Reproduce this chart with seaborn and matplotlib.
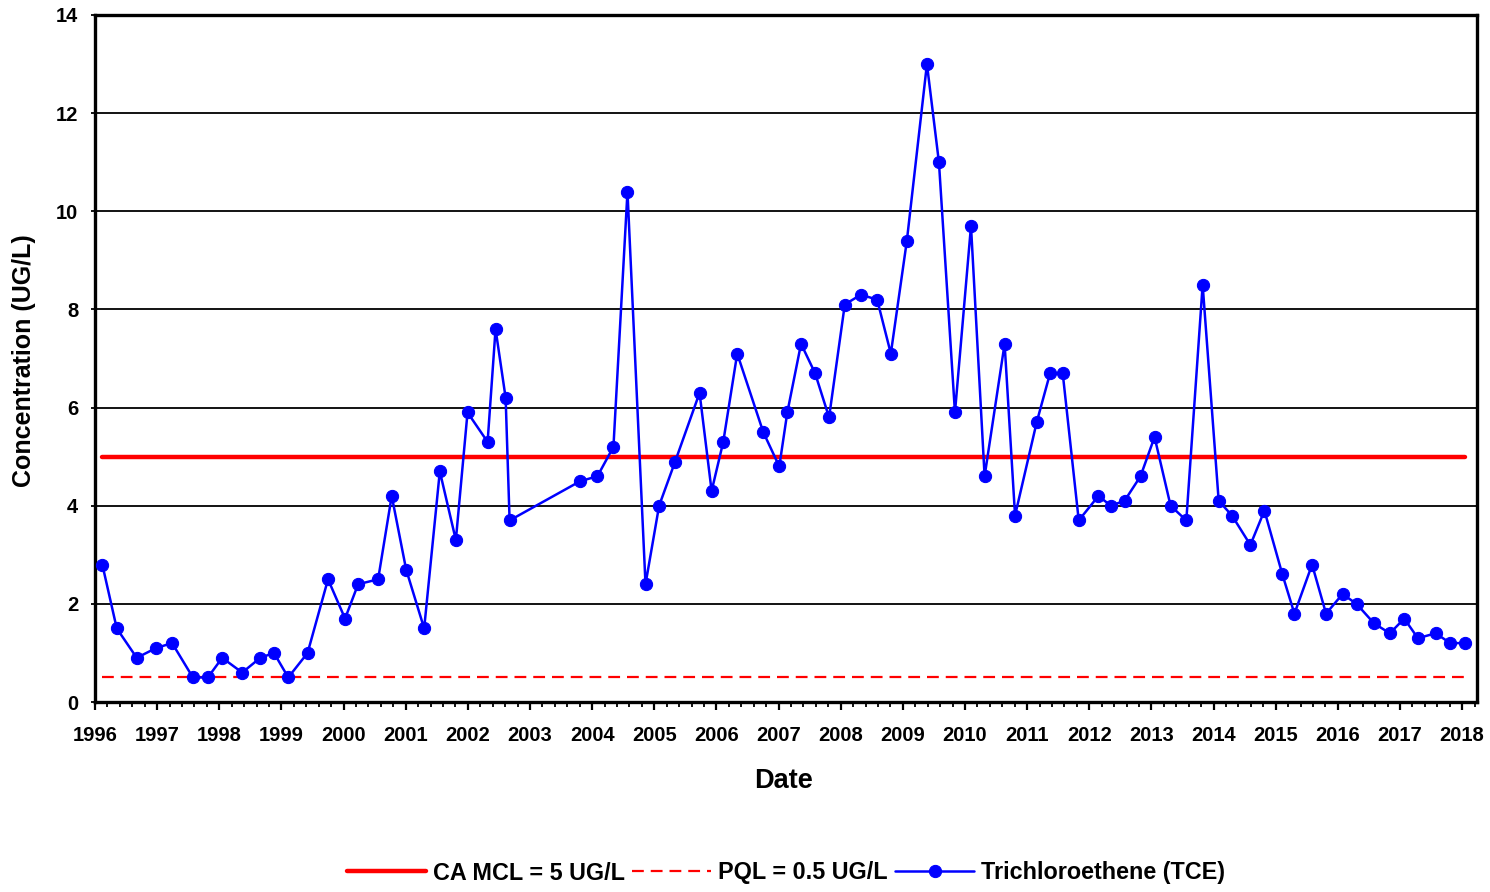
import matplotlib
matplotlib.use("Agg")
import matplotlib.pyplot as plt
from matplotlib.ticker import FixedLocator, MultipleLocator
import seaborn as sns

# Sampling dates (decimal years) and TCE results (ug/L)
sample_year = [
    1996.118, 1996.350, 1996.672, 1996.983, 1997.241, 1997.575, 1997.816, 1998.047,
    1998.369, 1998.659, 1998.880, 1999.110, 1999.421, 1999.750, 2000.024, 2000.234,
    2000.556, 2000.775, 2001.007, 2001.297, 2001.549, 2001.807, 2001.995, 2002.318,
    2002.446, 2002.608, 2002.672, 2003.808, 2004.085, 2004.343, 2004.569, 2004.859,
    2005.078, 2005.336, 2005.729, 2005.923, 2006.110, 2006.335, 2006.754, 2007.012,
    2007.141, 2007.362, 2007.588, 2007.813, 2008.066, 2008.324, 2008.587, 2008.807,
    2009.065, 2009.388, 2009.581, 2009.839, 2010.097, 2010.316, 2010.638, 2010.806,
    2011.154, 2011.370, 2011.573, 2011.831, 2012.148, 2012.347, 2012.568, 2012.825,
    2013.051, 2013.309, 2013.562, 2013.825, 2014.083, 2014.297, 2014.593, 2014.819,
    2015.108, 2015.302, 2015.586, 2015.811, 2016.076, 2016.301, 2016.585, 2016.838,
    2017.069, 2017.289, 2017.574, 2017.810, 2018.040,
]
tce_ugl = [
    2.8, 1.5, 0.9, 1.1, 1.2, 0.5, 0.5, 0.9,
    0.6, 0.9, 1.0, 0.5, 1.0, 2.5, 1.7, 2.4,
    2.5, 4.2, 2.7, 1.5, 4.7, 3.3, 5.9, 5.3,
    7.6, 6.2, 3.7, 4.5, 4.6, 5.2, 10.4, 2.4,
    4.0, 4.9, 6.3, 4.3, 5.3, 7.1, 5.5, 4.8,
    5.9, 7.3, 6.7, 5.8, 8.1, 8.3, 8.2, 7.1,
    9.4, 13.0, 11.0, 5.9, 9.7, 4.6, 7.3, 3.8,
    5.7, 6.7, 6.7, 3.7, 4.2, 4.0, 4.1, 4.6,
    5.4, 4.0, 3.7, 8.5, 4.1, 3.8, 3.2, 3.9,
    2.6, 1.8, 2.8, 1.8, 2.2, 2.0, 1.6, 1.4,
    1.7, 1.3, 1.4, 1.2, 1.2,
]

mcl_level = 5.0
pql_level = 0.5
mcl_label = "CA MCL = 5 UG/L"
pql_label = "PQL = 0.5 UG/L"
tce_label = "Trichloroethene (TCE)"

year_ticks = list(range(1996, 2019))
conc_ticks = [0, 2, 4, 6, 8, 10, 12, 14]

sns.set_style("white")
plt.rcParams["font.family"] = ["Liberation Sans", "DejaVu Sans"]
plt.rcParams["font.weight"] = "bold"
plt.rcParams["lines.scale_dashes"] = False
for key in ("text.color", "axes.labelcolor", "xtick.color", "ytick.color",
            "axes.edgecolor"):
    plt.rcParams[key] = "black"

fig = plt.figure(figsize=(14.9, 8.92), dpi=100)
W, H = 1490, 892
ax = fig.add_axes([95 / W, 1 - 702 / H, (1477 - 95) / W, (702 - 15) / H])

RED = "#ff0000"
BLUE = "#0000ff"

# Regulatory limits spanning the monitoring period
span = [sample_year[0], sample_year[-1]]
sns.lineplot(x=span, y=[mcl_level] * 2, color=RED, linewidth=3.2,
             label=mcl_label, ax=ax, zorder=3)
sns.lineplot(x=span, y=[pql_level] * 2, color=RED, linewidth=1.6,
             label=pql_label, ax=ax, zorder=3)
ax.lines[-1].set_dashes((8.5, 5.0))

# TCE concentration series
sns.lineplot(x=sample_year, y=tce_ugl, color=BLUE, linewidth=1.8,
             marker="o", markersize=8.8, markeredgecolor=BLUE,
             markerfacecolor=BLUE, label=tce_label, ax=ax, zorder=4)

handles, labels = ax.get_legend_handles_labels()
ax.get_legend().remove()

ax.set_xlim(1996, 2018.24)
ax.set_ylim(0, 14)
ax.xaxis.set_major_locator(FixedLocator(year_ticks))
ax.xaxis.set_minor_locator(MultipleLocator(0.2))
ax.set_xticklabels([str(y) for y in year_ticks])
ax.yaxis.set_major_locator(FixedLocator(conc_ticks))
ax.set_yticklabels([str(v) for v in conc_ticks])

ax.yaxis.grid(True, color="black", linewidth=1.3, zorder=1)
ax.xaxis.grid(False)
ax.set_axisbelow(True)

for sp in ax.spines.values():
    sp.set_visible(True)
    sp.set_color("black")
    sp.set_linewidth(2.4)

ax.tick_params(axis="x", which="major", direction="out", length=6, width=1.6,
               color="black", labelcolor="black", pad=11, labelsize=14.5,
               bottom=True)
ax.tick_params(axis="x", which="minor", direction="out", length=3.5, width=1.3,
               color="black", bottom=True)
ax.tick_params(axis="y", which="major", direction="out", length=3, width=1.3,
               color="black", labelcolor="black", pad=9, labelsize=14.5,
               left=True)
for lbl in ax.get_xticklabels() + ax.get_yticklabels():
    lbl.set_fontweight("bold")

ax.set_xlabel("Date", fontsize=19.5, fontweight="bold", color="black")
ax.set_ylabel("Concentration (UG/L)", fontsize=18, fontweight="bold", color="black")
ax.xaxis.set_label_coords((783 - 95) / 1382, (702 - 768) / 687)
ax.yaxis.set_label_coords((36 - 95) / 1382, (702 - 361) / 687)

leg = fig.legend(handles, labels, loc="center", bbox_to_anchor=(786 / W, 1 - 873 / H),
                 ncol=3, frameon=False, handlelength=3.4,
                 handletextpad=0.3, columnspacing=0.3, numpoints=1,
                 prop={"weight": "bold", "size": 16.8})
for t in leg.get_texts():
    t.set_color("black")

fig.savefig("out.png", dpi=100)
